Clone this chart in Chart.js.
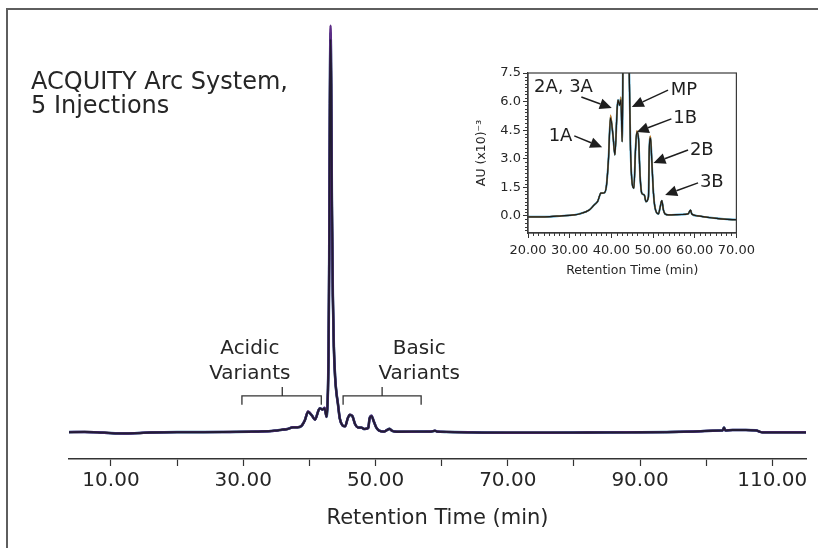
<!DOCTYPE html>
<html><head><meta charset="utf-8">
<script src="https://cdn.jsdelivr.net/npm/chart.js@4.4.1/dist/chart.umd.min.js"></script>
<style>
html,body{margin:0;padding:0;background:#fff;}
#wrap{position:relative;width:818px;height:548px;overflow:hidden;background:#fff;}
#frame{position:absolute;left:6px;top:8px;width:900px;height:700px;border-top:2px solid #5e5e5e;border-left:2px solid #5e5e5e;}
#main{position:absolute;left:0;top:0;}
#inset{position:absolute;left:460px;top:60px;}
</style></head><body>
<div id="wrap"><div id="frame"></div>
<canvas id="main" width="818" height="548"></canvas>
<canvas id="inset" width="300" height="230"></canvas></div>
<script>
// ---- data (absorbance in AU x10^-3) ----
const retentionTime = [3.6,6,8,10,12,14,16,20,24,28,31,32.3,34.7,35.9,36.7,37.5,38.2,38.8,39.3,39.8,40.4,40.85,41.4,41.6,42.0,42.3,42.6,42.75,42.9,43.0,43.1,43.2,43.3,43.4,43.55,43.7,43.9,44.1,44.3,44.6,45.0,45.4,45.8,46.1,46.5,46.9,47.3,47.9,48.3,48.9,49.1,49.4,49.7,50.1,50.5,51.3,51.7,52.1,52.5,52.9,53.7,56.8,58.4,59.0,59.3,60.7,64,70,76,82,88,94,98,101,102.5,102.7,102.9,104,106,107.5,108.5,112,115.2];
const absorbance = [-0.05,0.0,-0.1,-0.3,-0.4,-0.3,-0.15,-0.05,-0.05,0.0,0.05,0.1,0.31,0.58,0.75,1.19,1.2,1.54,2.94,5.2,4.2,3.2,5.65,6.08,5.8,6.17,3.9,7.5,20,45,85,101.5,90,60,35,22,14,10,7.5,3.46,1.7,1.45,3.5,4.42,4.1,2.06,1.19,1.1,0.75,1.0,3.46,4.16,2.9,1.2,0.4,0.1,0.45,0.8,0.3,0.1,0.05,0.07,0.1,0.3,0.1,0.0,-0.1,-0.2,-0.2,-0.15,-0.1,-0.05,0.1,0.3,0.4,1.1,0.4,0.5,0.5,0.4,-0.1,-0.1,-0.1];
// per-injection heights of peaks 1A, 3A, MP, 1B and 2B
const peakTimes = [39.8, 42.3, 43.2, 46.1, 49.4];
const injection1 = [5.15, 6.10, 101.5, 4.40, 4.10];
const injection2 = [5.30, 6.25, 105.0, 4.48, 4.20];
const injection3 = [5.20, 6.20, 103.2, 4.42, 4.16];
const injection4 = [5.25, 6.15, 102.0, 4.45, 4.12];
const injection5 = [5.10, 6.05, 100.8, 4.38, 4.05];
const injections = [injection1, injection2, injection3, injection4, injection5];
const mainTickValues = [10, 30, 50, 70, 90, 110];
const insetYTicks = [0, 1.5, 3, 4.5, 6, 7.5];
const titleLines = ['ACQUITY Arc System,', '5 Injections'];
const variantLabels = [['Acidic', 'Variants'], ['Basic', 'Variants']];
const peakLabels = ['1A', '2A, 3A', 'MP', '1B', '2B', '3B'];

// ---- styles / positions ----
const FONT = "'DejaVu Sans', Verdana, sans-serif";
const TXT = '#262626';
const mainColors = ['#221c33', '#5d2d86', '#1f6e8e', '#7b4b33', '#30306a'];
const mainWidths = [1.8, 2.4, 2.6, 2.2, 2.0];
const insetColors = ['#1b1b1b', '#d0862e', '#2b8fbd', '#2f5f7f', '#6a4a30'];
const insetWidths = [1.2, 1.2, 1.9, 1.2, 1.2];
const variantPos = [{t:31.0, v1:20.1, v2:13.7}, {t:56.6, v1:20.1, v2:13.7}];
const bracketPos = [{from:29.8, to:41.8, mid:35.9}, {from:45.1, to:56.9, mid:51.0}];
const bracketLevels = {bar:9.3, end:7.0, tip:11.6};
const arrowPos = [
  {tx:27.8, ty:3.93, x0:31.1, y0:4.2, x1:37.8, y1:3.6},
  {tx:28.5, ty:6.5, x0:32.8, y0:6.24, x1:40.1, y1:5.66},
  {tx:57.4, ty:6.35, x0:53.6, y0:6.6, x1:44.9, y1:5.72},
  {tx:57.7, ty:4.88, x0:54.4, y0:5.09, x1:46.1, y1:4.4},
  {tx:61.7, ty:3.2, x0:58.4, y0:3.46, x1:50.1, y1:2.78},
  {tx:64.1, ty:1.52, x0:60.8, y0:1.73, x1:52.9, y1:1.1}
];

function seriesFor(inj) {
  return retentionTime.map((t, i) => {
    const k = peakTimes.indexOf(t);
    return {x: t, y: k >= 0 ? inj[k] : absorbance[i]};
  });
}

Chart.defaults.font.family = FONT;
Chart.defaults.color = TXT;

// ---- main chart ----
const mainPlugin = {
  id: 'mainText',
  afterDatasetsDraw(chart) {
    const {ctx, scales: {x, y}} = chart;
    ctx.save();
    ctx.fillStyle = TXT;
    ctx.font = '24px ' + FONT;
    ctx.textAlign = 'left';
    ctx.textBaseline = 'alphabetic';
    ctx.fillText(titleLines[0], 31, 89);
    ctx.fillText(titleLines[1], 31, 113);
    ctx.font = '20px ' + FONT;
    ctx.textAlign = 'center';
    variantLabels.forEach((lines, i) => {
      const p = variantPos[i];
      ctx.fillText(lines[0], x.getPixelForValue(p.t), y.getPixelForValue(p.v1));
      ctx.fillText(lines[1], x.getPixelForValue(p.t), y.getPixelForValue(p.v2));
    });
    ctx.strokeStyle = '#333';
    ctx.lineWidth = 1.3;
    bracketPos.forEach(b => {
      const xa = x.getPixelForValue(b.from), xb = x.getPixelForValue(b.to), xm = x.getPixelForValue(b.mid);
      const yb = y.getPixelForValue(bracketLevels.bar), ye = y.getPixelForValue(bracketLevels.end), yt = y.getPixelForValue(bracketLevels.tip);
      ctx.beginPath();
      ctx.moveTo(xa, ye); ctx.lineTo(xa, yb); ctx.lineTo(xb, yb); ctx.lineTo(xb, ye);
      ctx.moveTo(xm, yb); ctx.lineTo(xm, yt);
      ctx.stroke();
    });
    ctx.restore();
  }
};

new Chart(document.getElementById('main'), {
  type: 'line',
  data: {
    datasets: injections.map((inj, i) => ({
      label: 'Injection ' + (i + 1),
      data: seriesFor(inj),
      borderColor: mainColors[i],
      borderWidth: mainWidths[i],
      pointRadius: 0,
      fill: false,
      cubicInterpolationMode: 'monotone',
      borderJoinStyle: 'round'
    }))
  },
  options: {
    responsive: false,
    animation: false,
    devicePixelRatio: 1,
    layout: {padding: {left: 69, right: 12, top: 20, bottom: 0}},
    plugins: {legend: {display: false}, tooltip: {enabled: false}},
    scales: {
      x: {
        type: 'linear', min: 3.65, max: 115.1,
        afterFit(s) { s.height = 89; },
        border: {display: true, color: '#333', width: 1.6},
        grid: {display: true, drawOnChartArea: false, drawTicks: true, tickLength: 7, tickColor: '#333', tickWidth: 1.2},
        ticks: {
          stepSize: 10, includeBounds: false, autoSkip: false, maxRotation: 0, padding: 3,
          font: {size: 20, family: FONT}, color: TXT,
          callback: v => mainTickValues.includes(v) ? v.toFixed(2) : ''
        },
        title: {display: true, text: 'Retention Time (min)', font: {size: 21, family: FONT}, color: TXT, padding: {top: 0, bottom: 17}}
      },
      y: {type: 'linear', display: false, min: -7, max: 106.5}
    }
  },
  plugins: [mainPlugin]
});

// ---- inset chart ----
function arrow(ctx, x0, y0, x1, y1) {
  const ang = Math.atan2(y1 - y0, x1 - x0);
  const L = 12, W = 5.5;
  const bx = x1 - L * Math.cos(ang), by = y1 - L * Math.sin(ang);
  ctx.beginPath(); ctx.moveTo(x0, y0); ctx.lineTo(bx, by); ctx.stroke();
  ctx.beginPath();
  ctx.moveTo(x1, y1);
  ctx.lineTo(bx + W * Math.sin(ang), by - W * Math.cos(ang));
  ctx.lineTo(bx - W * Math.sin(ang), by + W * Math.cos(ang));
  ctx.closePath(); ctx.fill();
}
const insetPlugin = {
  id: 'insetDeco',
  afterDraw(chart) {
    const {ctx, scales: {x, y}, chartArea: a} = chart;
    ctx.save();
    ctx.strokeStyle = '#3a3a3a';
    ctx.lineWidth = 1.2;
    ctx.strokeRect(a.left, a.top, a.right - a.left, a.bottom - a.top);
    ctx.lineWidth = 1;
    ctx.beginPath();
    for (let k = 0; k <= 40; k++) {
      if (k % 8 === 0) continue;
      const px = Math.round(x.getPixelForValue(20 + k * 1.25)) + 0.5;
      ctx.moveTo(px, a.bottom); ctx.lineTo(px, a.bottom + 3);
    }
    for (let k = -4; k <= 40; k++) {
      if (k % 8 === 0) continue;
      const py = Math.round(y.getPixelForValue(k * 0.1875)) + 0.5;
      ctx.moveTo(a.left, py); ctx.lineTo(a.left - 3, py);
    }
    ctx.stroke();
    ctx.fillStyle = '#1e1e1e';
    ctx.strokeStyle = '#1e1e1e';
    ctx.lineWidth = 1.5;
    ctx.font = '18px ' + FONT;
    ctx.textAlign = 'center';
    ctx.textBaseline = 'alphabetic';
    peakLabels.forEach((lab, i) => {
      const p = arrowPos[i];
      ctx.fillText(lab, x.getPixelForValue(p.tx), y.getPixelForValue(p.ty));
      arrow(ctx, x.getPixelForValue(p.x0), y.getPixelForValue(p.y0), x.getPixelForValue(p.x1), y.getPixelForValue(p.y1));
    });
    ctx.restore();
  }
};

new Chart(document.getElementById('inset'), {
  type: 'line',
  data: {
    datasets: injections.map((inj, i) => ({
      label: 'Injection ' + (i + 1),
      data: seriesFor(inj),
      borderColor: insetColors[i],
      borderWidth: insetWidths[i],
      pointRadius: 0,
      fill: false,
      cubicInterpolationMode: 'monotone'
    }))
  },
  options: {
    responsive: false,
    animation: false,
    devicePixelRatio: 1,
    layout: {padding: {left: 0, right: 20, top: 13, bottom: 0}},
    plugins: {legend: {display: false}, tooltip: {enabled: false}},
    scales: {
      x: {
        type: 'linear', min: 20, max: 70,
        afterFit(s) { s.height = 57; },
        border: {display: true, color: '#3a3a3a', width: 1.2},
        grid: {display: true, drawOnChartArea: false, tickLength: 5, tickColor: '#333'},
        ticks: {stepSize: 10, autoSkip: false, maxRotation: 0, padding: 5, font: {size: 13, family: FONT}, color: TXT,
          callback: v => v.toFixed(2)},
        title: {display: true, text: 'Retention Time (min)', font: {size: 12.5, family: FONT}, color: TXT, padding: {top: 0, bottom: 12}}
      },
      y: {
        type: 'linear', min: -0.9, max: 7.5,
        afterFit(s) { s.width = 68; },
        border: {display: true, color: '#3a3a3a', width: 1.2},
        grid: {display: true, drawOnChartArea: false, tickLength: 5, tickColor: '#333'},
        ticks: {stepSize: 1.5, includeBounds: false, autoSkip: false, padding: 2, font: {size: 13, family: FONT}, color: TXT,
          callback: v => insetYTicks.some(t => Math.abs(t - v) < 1e-6) ? v.toFixed(1) : ''},
        title: {display: true, text: 'AU (x10)\u207B\u00B3', font: {size: 12.5, family: FONT}, color: TXT, padding: {top: 14, bottom: 0}}
      }
    }
  },
  plugins: [insetPlugin]
});
</script>
</body></html>
